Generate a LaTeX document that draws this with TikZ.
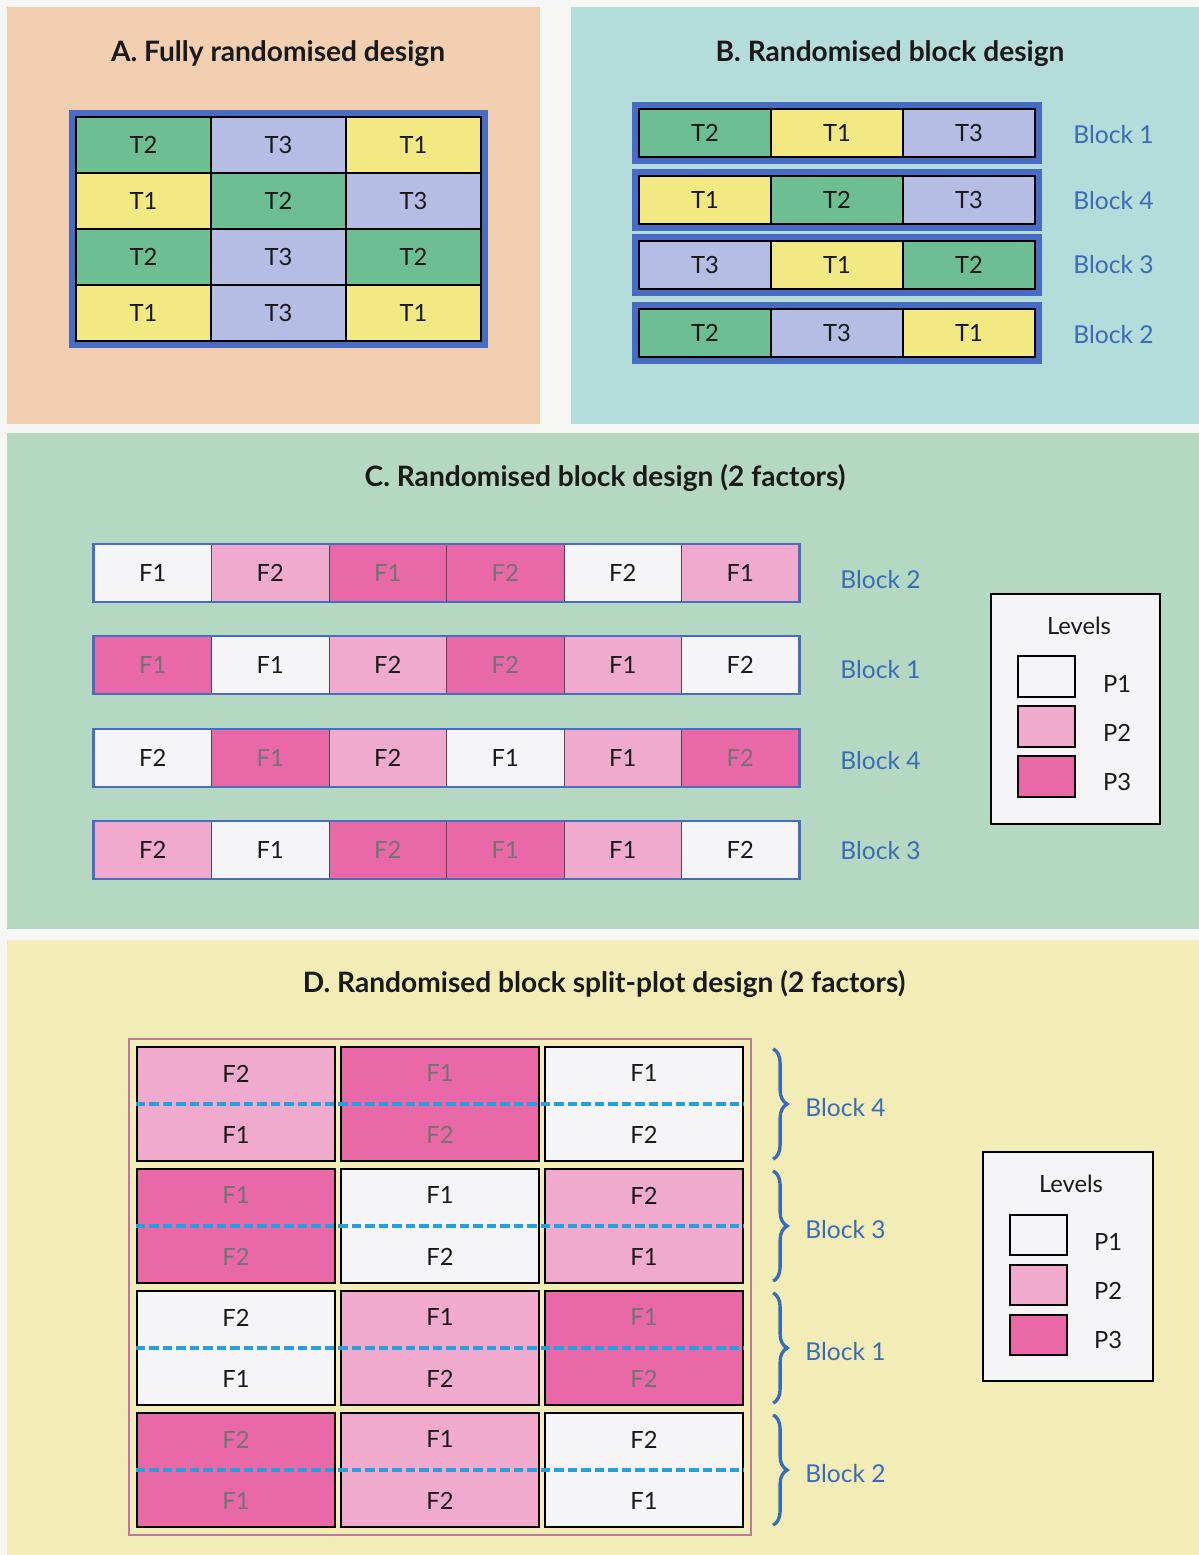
\documentclass[tikz,border=0pt]{standalone}
\usepackage{fontspec}
\setmainfont{Lato}
\usepackage{xcolor}
\usetikzlibrary{fit,decorations.pathreplacing}
\definecolor{pagebg}{RGB}{246,246,244}
\definecolor{panelA}{RGB}{242,207,177}
\definecolor{panelB}{RGB}{180,220,218}
\definecolor{panelC}{RGB}{180,216,194}
\definecolor{panelD}{RGB}{242,237,182}
\definecolor{tgreen}{RGB}{110,190,148}
\definecolor{tlilac}{RGB}{181,189,228}
\definecolor{tyellow}{RGB}{242,233,130}
\definecolor{frameblue}{RGB}{72,108,196}
\definecolor{labelblue}{RGB}{58,108,182}
\definecolor{pone}{RGB}{245,245,247}
\definecolor{ptwo}{RGB}{240,170,206}
\definecolor{pthree}{RGB}{232,104,168}
\definecolor{plotframe}{RGB}{196,118,160}
\definecolor{splitblue}{RGB}{38,160,220}

\newcommand{\twoplots}[2]{#1\\[0.66cm]#2}

\begin{document}
\begin{tikzpicture}[
    x=0.02cm, y=-0.02cm,
    paneltitle/.style={font=\fontsize{16}{19}\selectfont\bfseries, text=black!90},
    celltext/.style={font=\fontsize{13.5}{16}\selectfont, text=black!90, inner sep=0pt},
    cellA/.style={celltext, draw=black, line width=0.7pt, minimum width=2.7cm, minimum height=1.12cm},
    cellB/.style={celltext, draw=black, line width=0.7pt, minimum width=2.64cm, minimum height=0.96cm},
    cellC/.style={celltext, draw=black!70, line width=0.5pt, minimum width=2.35cm, minimum height=1.14cm},
    cellD/.style={celltext, draw=black, line width=1.3pt, minimum width=3.96cm, minimum height=2.28cm, align=center},
    trtone/.style={fill=tyellow},
    trttwo/.style={fill=tgreen},
    trtthree/.style={fill=tlilac},
    lvlone/.style={fill=pone},
    lvltwo/.style={fill=ptwo},
    lvlthree/.style={fill=pthree, text=black!55},
    blocklabel/.style={text=labelblue, font=\fontsize{14}{17}\selectfont, anchor=west, inner sep=0pt},
    legendbox/.style={draw=black, line width=1.3pt, fill=pone},
    swatch/.style={draw=black, line width=1.3pt, minimum width=1.14cm, minimum height=0.81cm, inner sep=0pt},
    splitline/.style={splitblue, line width=2.4pt, dash pattern=on 0.19cm off 0.08cm},
    blockbrace/.style={labelblue, line width=1.9pt, decorate, decoration={brace, amplitude=0.28cm}}
]

% Page and panel backgrounds
\fill[pagebg] (0,0) rectangle (1199,1555);
\useasboundingbox (0,0) rectangle (1199,1555);
\fill[panelA] (7,7) rectangle (540,424);
\fill[panelB] (571,7) rectangle (1199,424);
\fill[panelC] (7,433) rectangle (1199,929);
\fill[panelD] (7,940) rectangle (1199,1555);

% PANEL A: fully randomised
\node[paneltitle] (titleA) at (278,54) {A. Fully randomised design};

\def\aOne{143.5}
\def\aTwo{278.5}
\def\aThree{413.5}

\node[cellA, trttwo]   (a11) at (\aOne,145) {T2};
\node[cellA, trtthree] (a12) at (\aTwo,145) {T3};
\node[cellA, trtone]   (a13) at (\aThree,145) {T1};
\node[cellA, trtone]   (a21) at (\aOne,201) {T1};
\node[cellA, trttwo]   (a22) at (\aTwo,201) {T2};
\node[cellA, trtthree] (a23) at (\aThree,201) {T3};
\node[cellA, trttwo]   (a31) at (\aOne,257) {T2};
\node[cellA, trtthree] (a32) at (\aTwo,257) {T3};
\node[cellA, trttwo]   (a33) at (\aThree,257) {T2};
\node[cellA, trtone]   (a41) at (\aOne,313) {T1};
\node[cellA, trtthree] (a42) at (\aTwo,313) {T3};
\node[cellA, trtone]   (a43) at (\aThree,313) {T1};
\node[fit=(a11)(a43), draw=frameblue, line width=0.13cm, inner sep=0.07cm] (gridA) {};

% PANEL B: randomised blocks
\node[paneltitle] (titleB) at (890,54) {B. Randomised block design};

\def\bOne{705}
\def\bTwo{837}
\def\bThree{969}

\node[cellB, trttwo]   (b11) at (\bOne,133) {T2};
\node[cellB, trtone]   (b12) at (\bTwo,133) {T1};
\node[cellB, trtthree] (b13) at (\bThree,133) {T3};
\node[fit=(b11)(b13), draw=frameblue, line width=0.12cm, inner sep=0.06cm] (rowB1) {};
\node[blocklabel] (labB1) at (1073,135) {Block 1};

\node[cellB, trtone]   (b21) at (\bOne,200) {T1};
\node[cellB, trttwo]   (b22) at (\bTwo,200) {T2};
\node[cellB, trtthree] (b23) at (\bThree,200) {T3};
\node[fit=(b21)(b23), draw=frameblue, line width=0.12cm, inner sep=0.06cm] (rowB2) {};
\node[blocklabel] (labB2) at (1073,201) {Block 4};

\node[cellB, trtthree] (b31) at (\bOne,265) {T3};
\node[cellB, trtone]   (b32) at (\bTwo,265) {T1};
\node[cellB, trttwo]   (b33) at (\bThree,265) {T2};
\node[fit=(b31)(b33), draw=frameblue, line width=0.12cm, inner sep=0.06cm] (rowB3) {};
\node[blocklabel] (labB3) at (1073,265) {Block 3};

\node[cellB, trttwo]   (b41) at (\bOne,333) {T2};
\node[cellB, trtthree] (b42) at (\bTwo,333) {T3};
\node[cellB, trtone]   (b43) at (\bThree,333) {T1};
\node[fit=(b41)(b43), draw=frameblue, line width=0.12cm, inner sep=0.06cm] (rowB4) {};
\node[blocklabel] (labB4) at (1073,335) {Block 2};

% PANEL C: randomised blocks, 2 factors
\node[paneltitle] (titleC) at (605,478) {C. Randomised block design (2 factors)};

\def\cOne{152.75}
\def\cTwo{270.25}
\def\cThree{387.75}
\def\cFour{505.25}
\def\cFive{622.75}
\def\cSix{740.25}

% Block 2
\node[cellC, lvlone]   (c11) at (\cOne,573) {F1};
\node[cellC, lvltwo]   (c12) at (\cTwo,573) {F2};
\node[cellC, lvlthree] (c13) at (\cThree,573) {F1};
\node[cellC, lvlthree] (c14) at (\cFour,573) {F2};
\node[cellC, lvlone]   (c15) at (\cFive,573) {F2};
\node[cellC, lvltwo]   (c16) at (\cSix,573) {F1};
\node[fit=(c11)(c16), draw=frameblue, line width=1.3pt, inner sep=0pt] (rowC1) {};
\node[blocklabel] (labC1) at (840,580) {Block 2};

% Block 1
\node[cellC, lvlthree] (c21) at (\cOne,665) {F1};
\node[cellC, lvlone]   (c22) at (\cTwo,665) {F1};
\node[cellC, lvltwo]   (c23) at (\cThree,665) {F2};
\node[cellC, lvlthree] (c24) at (\cFour,665) {F2};
\node[cellC, lvltwo]   (c25) at (\cFive,665) {F1};
\node[cellC, lvlone]   (c26) at (\cSix,665) {F2};
\node[fit=(c21)(c26), draw=frameblue, line width=1.3pt, inner sep=0pt] (rowC2) {};
\node[blocklabel] (labC2) at (840,670) {Block 1};

% Block 4
\node[cellC, lvlone]   (c31) at (\cOne,758) {F2};
\node[cellC, lvlthree] (c32) at (\cTwo,758) {F1};
\node[cellC, lvltwo]   (c33) at (\cThree,758) {F2};
\node[cellC, lvlone]   (c34) at (\cFour,758) {F1};
\node[cellC, lvltwo]   (c35) at (\cFive,758) {F1};
\node[cellC, lvlthree] (c36) at (\cSix,758) {F2};
\node[fit=(c31)(c36), draw=frameblue, line width=1.3pt, inner sep=0pt] (rowC3) {};
\node[blocklabel] (labC3) at (840,761) {Block 4};

% Block 3
\node[cellC, lvltwo]   (c41) at (\cOne,850) {F2};
\node[cellC, lvlone]   (c42) at (\cTwo,850) {F1};
\node[cellC, lvlthree] (c43) at (\cThree,850) {F2};
\node[cellC, lvlthree] (c44) at (\cFour,850) {F1};
\node[cellC, lvltwo]   (c45) at (\cFive,850) {F1};
\node[cellC, lvlone]   (c46) at (\cSix,850) {F2};
\node[fit=(c41)(c46), draw=frameblue, line width=1.3pt, inner sep=0pt] (rowC4) {};
\node[blocklabel] (labC4) at (840,851) {Block 3};

% Legend C
\node[legendbox, minimum width=3.38cm, minimum height=4.6cm] (legC) at (1075.5,709) {};
\node[celltext] (legCtitle) at (1079,626) {Levels};
\node[swatch, lvlone]   (swC1) at (1046.5,676.5) {};
\node[swatch, lvltwo]   (swC2) at (1046.5,726.5) {};
\node[swatch, lvlthree] (swC3) at (1046.5,776.5) {};
\node[celltext] (legC1) at (1117,684) {P1};
\node[celltext] (legC2) at (1117,733) {P2};
\node[celltext] (legC3) at (1117,782) {P3};

% PANEL D: split-plot blocks
\node[paneltitle] (titleD) at (604,984) {D. Randomised block split-plot design (2 factors)};

\def\dOne{236}
\def\dTwo{440}
\def\dThree{644}

% Block 4
\node[cellD, lvltwo]   (d11) at (\dOne,1104) {\twoplots{F2}{F1}};
\node[cellD, lvlthree] (d12) at (\dTwo,1104) {\twoplots{F1}{F2}};
\node[cellD, lvlone]   (d13) at (\dThree,1104) {\twoplots{F1}{F2}};
% Block 3
\node[cellD, lvlthree] (d21) at (\dOne,1226) {\twoplots{F1}{F2}};
\node[cellD, lvlone]   (d22) at (\dTwo,1226) {\twoplots{F1}{F2}};
\node[cellD, lvltwo]   (d23) at (\dThree,1226) {\twoplots{F2}{F1}};
% Block 1
\node[cellD, lvlone]   (d31) at (\dOne,1348) {\twoplots{F2}{F1}};
\node[cellD, lvltwo]   (d32) at (\dTwo,1348) {\twoplots{F1}{F2}};
\node[cellD, lvlthree] (d33) at (\dThree,1348) {\twoplots{F1}{F2}};
% Block 2
\node[cellD, lvlthree] (d41) at (\dOne,1470) {\twoplots{F2}{F1}};
\node[cellD, lvltwo]   (d42) at (\dTwo,1470) {\twoplots{F1}{F2}};
\node[cellD, lvlone]   (d43) at (\dThree,1470) {\twoplots{F2}{F1}};

\node[fit=(d11)(d43), draw=plotframe, line width=1.3pt, inner sep=0.14cm] (gridD) {};

% Sub-plot split lines
\draw[splitline] (d11.west) -- (d13.east);
\draw[splitline] (d21.west) -- (d23.east);
\draw[splitline] (d31.west) -- (d33.east);
\draw[splitline] (d41.west) -- (d43.east);

% Block braces
\draw[blockbrace] ([xshift=0.58cm,yshift=-0.06cm]d13.north east) -- ([xshift=0.58cm,yshift=0.06cm]d13.south east);
\draw[blockbrace] ([xshift=0.58cm,yshift=-0.06cm]d23.north east) -- ([xshift=0.58cm,yshift=0.06cm]d23.south east);
\draw[blockbrace] ([xshift=0.58cm,yshift=-0.06cm]d33.north east) -- ([xshift=0.58cm,yshift=0.06cm]d33.south east);
\draw[blockbrace] ([xshift=0.58cm,yshift=-0.06cm]d43.north east) -- ([xshift=0.58cm,yshift=0.06cm]d43.south east);
\node[blocklabel] (labD1) at (805,1108) {Block 4};
\node[blocklabel] (labD2) at (805,1230) {Block 3};
\node[blocklabel] (labD3) at (805,1352) {Block 1};
\node[blocklabel] (labD4) at (805,1474) {Block 2};

% Legend D
\node[legendbox, minimum width=3.4cm, minimum height=4.58cm] (legD) at (1068,1266.5) {};
\node[celltext] (legDtitle) at (1071,1184) {Levels};
\node[swatch, lvlone]   (swD1) at (1038.5,1235) {};
\node[swatch, lvltwo]   (swD2) at (1038.5,1285) {};
\node[swatch, lvlthree] (swD3) at (1038.5,1335) {};
\node[celltext] (legD1) at (1108,1242) {P1};
\node[celltext] (legD2) at (1108,1291) {P2};
\node[celltext] (legD3) at (1108,1340) {P3};

\end{tikzpicture}
\end{document}
